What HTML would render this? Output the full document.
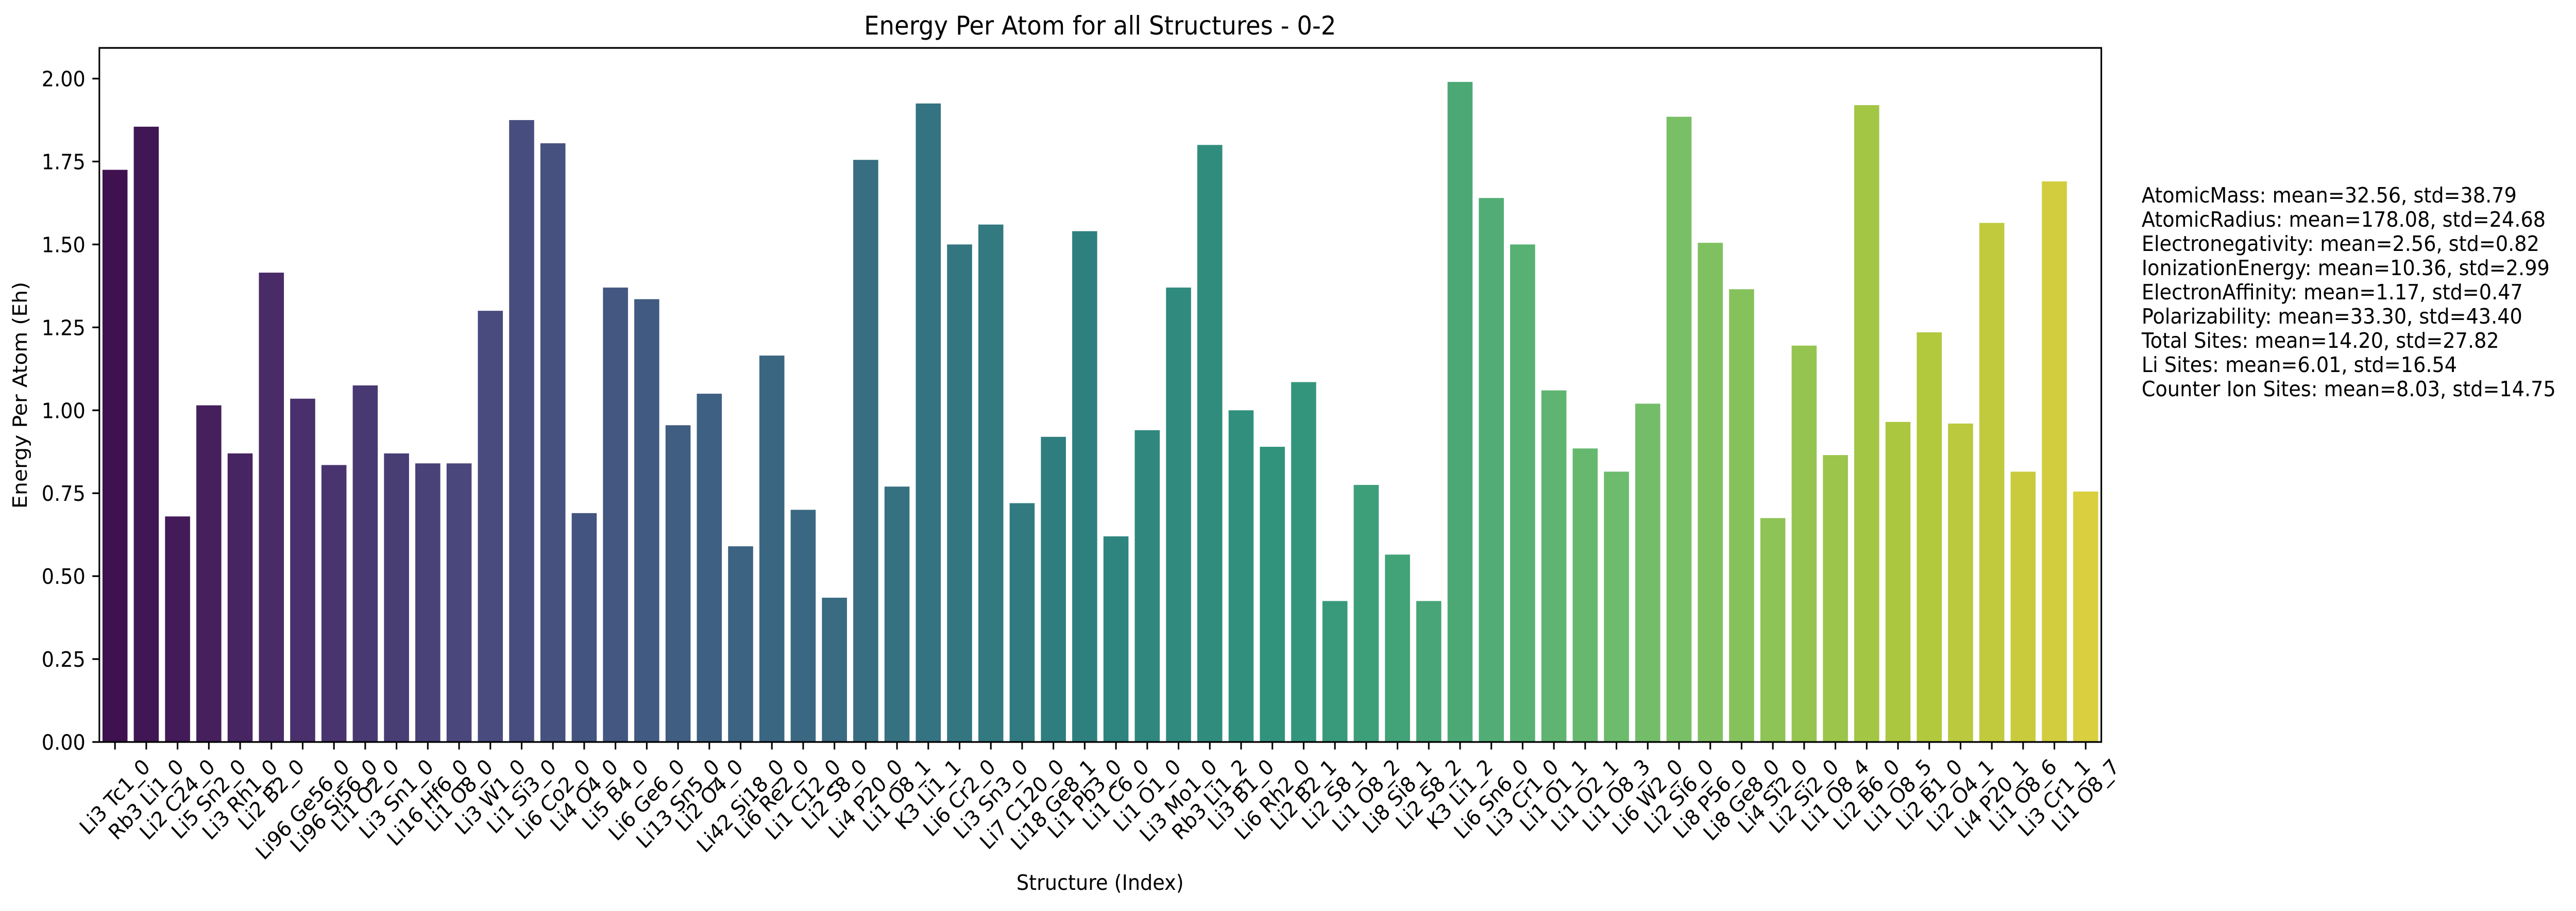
<!DOCTYPE html>
<html><head><meta charset="utf-8">
<style>
html,body{margin:0;padding:0;background:#fff;overflow:hidden;width:100vw;height:100vh;}
svg{display:block;width:100vw;height:100vh;font-family:"DejaVu Sans","Liberation Sans",sans-serif;}
</style></head>
<body>
<svg id="chart" viewBox="0 0 5367 1768" preserveAspectRatio="none" xmlns="http://www.w3.org/2000/svg">
<rect width="5367" height="1768" fill="#fff"/>
<text x="2292" y="67" font-size="50" text-anchor="middle">Energy Per Atom for all Structures - 0-2</text>
<g id="bars"></g>
<g id="yaxis"></g>
<g id="xaxis"></g>
<rect x="207" y="93" width="4171" height="1347" fill="none" stroke="#000" stroke-width="3.3"/>
<text x="0" y="0" font-size="41" text-anchor="middle" transform="translate(56,767) rotate(-90)">Energy Per Atom (Eh)</text>
<text x="2292" y="1727" font-size="41" text-anchor="middle">Structure (Index)</text>
<g font-size="41">
<text x="4462" y="393">AtomicMass: mean=32.56, std=38.79</text>
<text x="4462" y="440">AtomicRadius: mean=178.08, std=24.68</text>
<text x="4462" y="487">Electronegativity: mean=2.56, std=0.82</text>
<text x="4462" y="534">IonizationEnergy: mean=10.36, std=2.99</text>
<text x="4462" y="581">ElectronAffinity: mean=1.17, std=0.47</text>
<text x="4462" y="628">Polarizability: mean=33.30, std=43.40</text>
<text x="4462" y="675">Total Sites: mean=14.20, std=27.82</text>
<text x="4462" y="722">Li Sites: mean=6.01, std=16.54</text>
<text x="4462" y="769">Counter Ion Sites: mean=8.03, std=14.75</text>
</g>
</svg>
<script>
const categories = ["Li3 Tc1_0","Rb3 Li1_0","Li2 C24_0","Li5 Sn2_0","Li3 Rh1_0","Li2 B2_0","Li96 Ge56_0","Li96 Si56_0","Li1 O2_0","Li3 Sn1_0","Li16 Hf6_0","Li1 O8_0","Li3 W1_0","Li1 Si3_0","Li6 Co2_0","Li4 O4_0","Li5 B4_0","Li6 Ge6_0","Li13 Sn5_0","Li2 O4_0","Li42 Si18_0","Li6 Re2_0","Li1 C12_0","Li2 S8_0","Li4 P20_0","Li1 O8_1","K3 Li1_1","Li6 Cr2_0","Li3 Sn3_0","Li7 C120_0","Li18 Ge8_1","Li1 Pb3_0","Li1 C6_0","Li1 O1_0","Li3 Mo1_0","Rb3 Li1_2","Li3 B1_0","Li6 Rh2_0","Li2 B2_1","Li2 S8_1","Li1 O8_2","Li8 Si8_1","Li2 S8_2","K3 Li1_2","Li6 Sn6_0","Li3 Cr1_0","Li1 O1_1","Li1 O2_1","Li1 O8_3","Li6 W2_0","Li2 Si6_0","Li8 P56_0","Li8 Ge8_0","Li4 Si2_0","Li2 Si2_0","Li1 O8_4","Li2 B6_0","Li1 O8_5","Li2 B1_0","Li2 O4_1","Li4 P20_1","Li1 O8_6","Li3 Cr1_1","Li1 O8_7"];
const values = [1.725,1.855,0.68,1.015,0.87,1.415,1.035,0.835,1.075,0.87,0.84,0.84,1.30,1.875,1.805,0.69,1.37,1.335,0.955,1.05,0.59,1.165,0.70,0.435,1.755,0.77,1.925,1.50,1.56,0.72,0.92,1.54,0.62,0.94,1.37,1.80,1.00,0.89,1.085,0.425,0.775,0.565,0.425,1.99,1.64,1.50,1.06,0.885,0.815,1.02,1.885,1.505,1.365,0.675,1.195,0.865,1.92,0.965,1.235,0.96,1.565,0.815,1.69,0.755];
const yTicks = [0,0.25,0.5,0.75,1.0,1.25,1.5,1.75,2.0];
const yTickLabels = ["0.00","0.25","0.50","0.75","1.00","1.25","1.50","1.75","2.00"];

const NS="http://www.w3.org/2000/svg";
const L=207,R=4378,T=93,B=1440;
const yMax=2.0925;
function yScale(v){return B-(v/yMax)*(B-T);}
function xScale(i){const s=(R-L)/categories.length;return L+s*(i+0.5);}
const band=(R-L)/categories.length;

const vir=[[68,1,84],[72,35,116],[64,67,135],[52,94,141],[41,120,142],[32,144,140],[34,167,132],[68,190,112],[121,209,81],[189,222,38],[253,231,37]];
function viridis(t){const p=t*(vir.length-1);const i=Math.min(Math.floor(p),vir.length-2);const f=p-i;return vir[i].map((c,k)=>c+(vir[i+1][k]-c)*f);}
function desat(rgb,s){let [r,g,b]=rgb.map(c=>c/255);const mx=Math.max(r,g,b),mn=Math.min(r,g,b);let l=(mx+mn)/2,h=0,sat=0;
 if(mx!==mn){const d=mx-mn;sat=l>0.5?d/(2-mx-mn):d/(mx+mn);
 if(mx===r)h=((g-b)/d+(g<b?6:0));else if(mx===g)h=(b-r)/d+2;else h=(r-g)/d+4;h/=6;}
 sat*=s;
 function hue(p,q,t){if(t<0)t+=1;if(t>1)t-=1;if(t<1/6)return p+(q-p)*6*t;if(t<1/2)return q;if(t<2/3)return p+(q-p)*(2/3-t)*6;return p;}
 if(sat===0)return [l,l,l].map(c=>Math.round(c*255));
 const q=l<0.5?l*(1+sat):l+sat-l*sat,p=2*l-q;
 return [hue(p,q,h+1/3),hue(p,q,h),hue(p,q,h-1/3)].map(c=>Math.round(c*255));}

const gb=document.getElementById('bars');
const n=categories.length;
values.forEach((v,i)=>{
 const c=desat(viridis((i+1)/(n+1)),0.75);
 const r=document.createElementNS(NS,'rect');
 
 
 const w=band*0.8;
 r.setAttribute('x',xScale(i)-w/2);r.setAttribute('width',w);
 r.setAttribute('y',yScale(v));r.setAttribute('height',B-yScale(v));
 r.setAttribute('fill','rgb('+c.join(',')+')');
 gb.appendChild(r);
});

const gy=document.getElementById('yaxis');
yTicks.forEach((t,i)=>{
 const y=yScale(t);
 const ln=document.createElementNS(NS,'line');
 
 
 ln.setAttribute('x1',L-14.6);ln.setAttribute('x2',L);ln.setAttribute('y1',y);ln.setAttribute('y2',y);
 ln.setAttribute('stroke','#000');ln.setAttribute('stroke-width','3.3');gy.appendChild(ln);
 const tx=document.createElementNS(NS,'text');
 
 
 tx.setAttribute('x',L-29);tx.setAttribute('y',y+15);tx.setAttribute('font-size','41');tx.setAttribute('text-anchor','end');
 tx.textContent=yTickLabels[i];gy.appendChild(tx);
});

const gx=document.getElementById('xaxis');
const fs=41,th=fs*1.0;
categories.forEach((c,i)=>{
 const x=xScale(i);
 const ln=document.createElementNS(NS,'line');
 
 
 ln.setAttribute('x1',x);ln.setAttribute('x2',x);ln.setAttribute('y1',B);ln.setAttribute('y2',B+14.6);
 ln.setAttribute('stroke','#000');ln.setAttribute('stroke-width','3.3');gx.appendChild(ln);
 const tx=document.createElementNS(NS,'text');
 
 
 tx.setAttribute('font-size',fs);tx.setAttribute('text-anchor','middle');tx.setAttribute('dominant-baseline','central');
 tx.setAttribute('x',0);tx.setAttribute('y',0);
 tx.textContent=c;gx.appendChild(tx);
 const len=tx.getComputedTextLength();
 const cy=B+14.6+12+(len+th)/(2*Math.SQRT2);
 tx.setAttribute('transform','translate('+x+','+cy+') rotate(-45)');
});
</script>
</body></html>
